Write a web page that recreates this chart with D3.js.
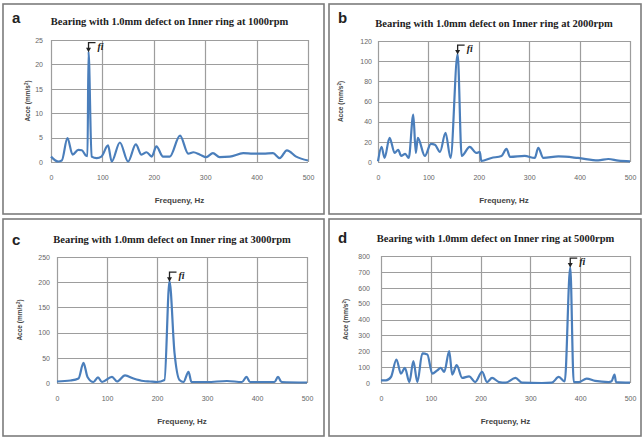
<!DOCTYPE html>
<meta charset="utf-8">
<style>
body { margin: 0; background: #fff; }
svg text { font-family: "Liberation Sans", Arial, sans-serif; }
.ttl { font-family: "Liberation Serif", "Times New Roman", serif; font-weight: bold; font-size: 10.5px; fill: #222; }
.fi { font-family: "Liberation Serif", "Times New Roman", serif; font-weight: bold; font-style: italic; font-size: 10px; fill: #222; }
</style>
<svg width="643" height="437"></svg>
<script src="https://cdn.jsdelivr.net/npm/d3@7"></script>
<script>

// a) 1000 rpm
var freqA = [0,14,21,32,42,53,60,68,71,73,79,89,98,111,118,134,150,165,176,186,196,205,218,231,251,267,277,290,302,315,328,348,374,393,413,432,445,459,477,500];
var accA  = [1.1,0.1,0.3,4.9,1.5,2.5,2.4,1.3,1.2,22.6,1.1,0.8,1.1,3.4,0.1,4.0,0.1,3.6,1.5,2.0,1.1,3.2,1.1,1.1,5.4,1.7,2.0,1.5,1.0,1.8,1.0,1.1,1.8,1.7,1.7,1.8,0.8,2.4,1.1,0.3];
// b) 2000 rpm
var freqB = [0,7,13,23,33,40,46,54,61,70,75,79,93,105,113,123,134,144,158,166,182,195,202,205,225,245,255,262,291,311,318,328,358,397,437,457,477,500];
var accB  = [0.7,15,4,24,9,12,6,8,4,47,9,24,6,18,17,10,29,4,107,6,15,9,10,1,4,6,13,5,6,4,14,4,5.5,4,1.6,3,1.3,0.7];
// c) 3000 rpm
var freqC = [0,27,43,53,61,73,82,90,110,120,136,153,173,186,200,215,225,235,245,253,263,269,300,340,370,379,386,400,435,442,449,500];
var accC  = [3,5,9,40,12,2,11,2,12,3,15,9,4,3,2,6,202,60,6,2,22,2,2,4,2,12,2,2,2,12,2,1];
// d) 5000 rpm
var freqD = [0,10,20,31,40,48,57,65,73,83,93,103,113,120,127,137,143,152,163,177,189,203,213,223,237,250,270,283,323,343,357,369,380,387,397,413,430,457,463,469,472,500];
var accD  = [17,17,38,148,59,95,6,138,6,186,180,59,80,95,70,201,53,112,32,42,6,70,6,32,6,2,32,2,0,2,38,10,730,6,6,28,13,6,11,53,6,2];

var xTicks = [0,100,200,300,400,500];
var yTicksA = [0,5,10,15,20,25];
var yTicksB = [0,20,40,60,80,100,120];
var yTicksC = [0,50,100,150,200,250];
var yTicksD = [0,100,200,300,400,500,600,700,800];

var letters = ["a","b","c","d"];
var titles = [
  "Bearing with 1.0mm defect on Inner ring at 1000rpm",
  "Bearing with 1.0mm defect on Inner ring at 2000rpm",
  "Bearing with 1.0mm defect on Inner ring at 3000rpm",
  "Bearing with 1.0mm defect on Inner ring at 5000rpm"
];
var peakFreq = [73,158,225,380];
var peakAcc = [22.6,107,202,730];

var panels = [
  {freq: freqA, acc: accA, yTicks: yTicksA, box: [3,4,321,210], plot: [51,40,308,162], gap: 8, yTitleX: 30, letterY: 23, titleY: 25},
  {freq: freqB, acc: accB, yTicks: yTicksB, box: [329,4,312,210], plot: [378,41,630,162], gap: 6, yTitleX: 343, letterY: 23, titleY: 27},
  {freq: freqC, acc: accC, yTicks: yTicksC, box: [3,219,321,217], plot: [57,257,307,383], gap: 7, yTitleX: 22, letterY: 245, titleY: 243},
  {freq: freqD, acc: accD, yTicks: yTicksD, box: [329,219,312,217], plot: [381,256,630,383], gap: 11, yTitleX: 348, letterY: 243, titleY: 242}
];

var svg = d3.select("svg");
var lineColor = "#4a7ebb";
var gridColor = "#9d9d9d";

panels.forEach(function(p, i) {
  var g = svg.append("g");

  g.append("rect")
    .attr("x", p.box[0]).attr("y", p.box[1])
    .attr("width", p.box[2]).attr("height", p.box[3])
    .attr("fill", "#fff").attr("stroke", "#7c7c7c").attr("stroke-width", 1.6);

  var x = d3.scaleLinear().domain([0,500]).range([p.plot[0], p.plot[2]]);
  var yMax = p.yTicks[p.yTicks.length - 1];
  var y = d3.scaleLinear().domain([0, yMax]).range([p.plot[3], p.plot[1]]);

  // gridlines
  g.append("g").selectAll("line").data(xTicks).enter().append("line")
    .attr("x1", function(d){ return Math.round(x(d)) + 0.5; }).attr("x2", function(d){ return Math.round(x(d)) + 0.5; })
    .attr("y1", p.plot[1]).attr("y2", p.plot[3])
    .attr("stroke", gridColor).attr("stroke-width", 1.2);
  g.append("g").selectAll("line").data(p.yTicks).enter().append("line")
    .attr("x1", p.plot[0]).attr("x2", p.plot[2])
    .attr("y1", function(d){ return Math.round(y(d)) + 0.5; }).attr("y2", function(d){ return Math.round(y(d)) + 0.5; })
    .attr("stroke", gridColor).attr("stroke-width", 1.2);

  // axes (labels only)
  var xa = g.append("g")
    .attr("transform", "translate(0," + p.plot[3] + ")")
    .call(d3.axisBottom(x).tickValues(xTicks).tickSize(0).tickPadding(13));
  xa.select(".domain").remove();

  var ya = g.append("g")
    .attr("transform", "translate(" + p.plot[0] + ",0)")
    .call(d3.axisLeft(y).tickValues(p.yTicks).tickSize(0).tickPadding(p.gap));
  ya.select(".domain").remove();

  // series
  var line = d3.line()
    .x(function(d){ return x(d[0]); })
    .y(function(d){ return y(d[1]); })
    .curve(d3.curveMonotoneX);
  g.append("path")
    .datum(d3.zip(p.freq, p.acc))
    .attr("d", line)
    .attr("fill", "none")
    .attr("stroke", lineColor)
    .attr("stroke-width", 2.2)
    .attr("stroke-linejoin", "round");

  // peak marker
  var px = x(peakFreq[i]), py = y(peakAcc[i]);
  g.append("path")
    .attr("d", "M" + (px + 7) + "," + (py - 9) + "H" + px + "V" + (py - 2))
    .attr("fill", "none").attr("stroke", "#222").attr("stroke-width", 1.3);
  g.append("path")
    .attr("d", "M" + (px - 2.5) + "," + (py - 4) + "L" + (px + 2.5) + "," + (py - 4) + "L" + px + "," + (py + 0.5) + "Z")
    .attr("fill", "#222");
  g.append("text").attr("class", "fi")
    .attr("x", px + 9).attr("y", py - 2)
    .text("fi");

  // titles
  g.append("text")
    .attr("x", p.box[0] + 9).attr("y", p.letterY)
    .attr("font-size", 15).attr("font-weight", "bold").attr("fill", "#222")
    .text(letters[i]);
  g.append("text").attr("class", "ttl")
    .attr("x", (p.plot[0] + p.plot[2]) / 2 - 10).attr("y", p.titleY)
    .attr("text-anchor", "middle")
    .text(titles[i]);

  g.append("text")
    .attr("x", (p.plot[0] + p.plot[2]) / 2).attr("y", p.plot[3] + 41)
    .attr("text-anchor", "middle")
    .attr("font-size", 8).attr("font-weight", "bold").attr("fill", "#444")
    .text("Frequeny, Hz");

  var yt = g.append("text")
    .attr("transform", "translate(" + p.yTitleX + "," + ((p.plot[1] + p.plot[3]) / 2) + ") rotate(-90)")
    .attr("text-anchor", "middle")
    .attr("font-size", 6.5).attr("font-weight", "bold").attr("fill", "#444");
  yt.append("tspan").text("Acce (mm/s");
  yt.append("tspan").attr("baseline-shift", "super").attr("font-size", 4.5).text("2");
  yt.append("tspan").text(")");
});

d3.selectAll(".tick text").attr("fill", "#666").attr("font-size", 7);
</script>
